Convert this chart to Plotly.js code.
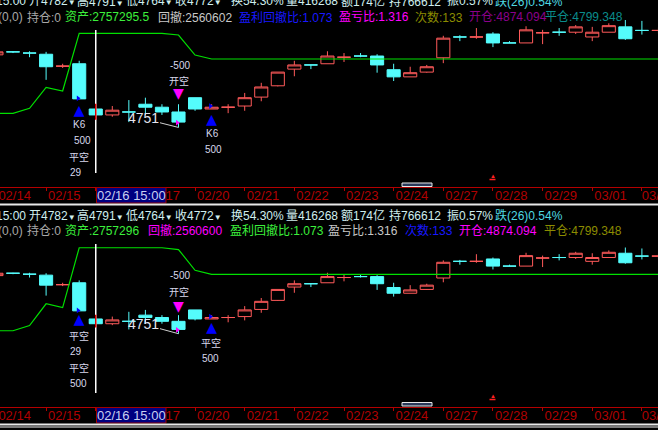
<!DOCTYPE html>
<html><head><meta charset="utf-8">
<script src="https://cdn.plot.ly/plotly-3.0.1.min.js"></script>
<style>html,body{margin:0;padding:0;background:#000;overflow:hidden}</style>
</head><body><div id="chart" style="width:658px;height:430px"></div>
<script>
// ---------------- data ----------------
const barX = [0,1,2,3,4,5,6,7,8,9,10,11,12,13,14,15,16,17,18,19,20,21,22,23,24,25,26,27,28,29,30,31,32,33,34,35,36,37,38,39,40];
const openV  = [4873,4878,4876,4874,4854,4858,4782,4772,4777,4790,4785,4777,4801,4782,4785,4787,4802,4821,4849,4856,4858,4869,4871,4871,4848,4836,4844,4868,4903,4903,4908,4893,4893,4910,4911,4911,4903,4911,4920,4914,4914];
const highV  = [4879,4879,4879,4878,4858,4863,4791,4787,4797,4801,4790,4790,4801,4790,4790,4809,4826,4844,4863,4856,4879,4876,4876,4874,4858,4853,4856,4905,4906,4918,4911,4896,4921,4915,4918,4923,4920,4926,4932,4930,4919];
const lowV   = [4871,4876,4869,4831,4851,4799,4764,4769,4760,4772,4772,4751,4779,4782,4775,4779,4795,4820,4837,4849,4858,4861,4869,4843,4829,4836,4843,4859,4896,4900,4886,4893,4893,4891,4905,4908,4896,4911,4898,4907,4909];
const closeV = [4878,4878,4876,4853,4854,4799,4772,4780,4777,4785,4777,4760,4782,4785,4785,4801,4819,4844,4856,4856,4871,4869,4871,4856,4836,4843,4853,4901,4903,4903,4893,4893,4915,4910,4911,4920,4911,4922,4900,4914,4914];
const barTrend = ['u','d','d','d','u','d','d','u','d','d','d','d','d','u','u','u','u','u','u','d','u','u','d','d','d','u','u','u','d','u','d','d','u','u','d','u','u','u','d','d','u'];
const equity = [1671000,1671000,1771000,2191000,2117000,3271000,3271000,3271000,3271000,3271000,3271000,3237000,2837000,
  2757296,2757296,2757296,2757296,2757296,2757296,2757296,2757296,2757296,2757296,2757296,2757296,2757296,2757296,2757296,
  2757296,2757296,2757296,2757296,2757296,2757296,2757296,2757296,2757296,2757296,2757296,2757296,2757296];
const tickBars = [0,3,6,9,12,15,18,21,24,27,30,33,36,39];
const tickLabels = ['02/14','02/15','02/16','02/17','02/20','02/21','02/22','02/23','02/24','02/27','02/28','02/29','03/01','03/02'];
const cursorBar = 6;
const cursorLabel = '02/16 15:00';
// trade signals
const coverBars = [5, 13];   const coverPrices = [4778, 4763];   // blue up triangles
const shortBars = [11];      const shortPrices = [4807];         // magenta down triangle
const blueFlagBars = [5, 13]; const blueFlagPrices = [4800, 4787];
const pinkFlagBars = [11];    const pinkFlagPrices = [4759];
const quoteItems = ['15:00','开4782▼','高4791▼','低4764▼','收4772▼','换54.30%','量416268','额174亿','持766612','振0.57%','跌(26)0.54%'];
const topStats = ['(0,0)','持仓:0','资产:2757295.5','回撤:2560602','盈利回撤比:1.073','盈亏比:1.316','次数:133','开仓:4874.094','平仓:4799.348'];
const botStats = ['(0,0)','持仓:0','资产:2757296','回撤:2560600','盈利回撤比:1.073','盈亏比:1.316','次数:133','开仓:4874.094','平仓:4799.348'];
const topSignalText = [['K6','500','平空','29'], ['K6','500'], ['开空','-500']];
const botSignalText = [['平空','29','平空','500'], ['平空','500'], ['开空','-500']];

// ---------------- layout helpers ----------------
const W = 658, H = 430;
const px = x => x / W, py = y => 1 - y / H;
const BAR = 16.55, X0 = -3.55;
const xRange = [(0 - X0) / BAR, (W - X0) / BAR];
const pTop = y => 4965.12 - 1.68 * y;
const pBot = y => 2.1 * (2596.1 - y);
const gTop = y => 2757296 + (59 - y) * 20000;
const gBot = y => gTop((y - 213.2) / 1.0375);
const FONT = 'Liberation Sans, Noto Sans CJK SC, DejaVu Sans';
const RED = '#ff5a5a', CYAN = '#54fcfc';

const pick = (arr, idx) => idx.map(i => arr[i]);
const upIdx = barX.filter(i => barTrend[i] === 'u');
const dnIdx = barX.filter(i => barTrend[i] === 'd');

function candles(idx, color, fill, xa, ya) {
  return {type:'candlestick', x:pick(barX,idx), open:pick(openV,idx), high:pick(highV,idx),
    low:pick(lowV,idx), close:pick(closeV,idx), xaxis:xa, yaxis:ya, whiskerwidth:0,
    increasing:{line:{color:color,width:1}, fillcolor:fill},
    decreasing:{line:{color:color,width:1}, fillcolor:fill},
    hoverinfo:'skip', showlegend:false};
}
function panelTraces(xa, ya, ga) {
  return [
    candles(upIdx, RED, '#000000', xa, ya),
    candles(dnIdx, CYAN, CYAN, xa, ya),
    {type:'scatter', mode:'text', x:coverBars, y:coverPrices, text:coverBars.map(()=>'▲'),
     textfont:{family:'DejaVu Sans', size:14, color:'#0000ff'}, xaxis:xa, yaxis:ya, hoverinfo:'skip'},
    {type:'scatter', mode:'text', x:shortBars, y:shortPrices, text:shortBars.map(()=>'▼'),
     textfont:{family:'DejaVu Sans', size:14, color:'#ff00ff'}, xaxis:xa, yaxis:ya, hoverinfo:'skip'},
    {type:'scatter', mode:'markers', x:blueFlagBars.map(v=>v-0.07), y:blueFlagPrices,
     marker:{symbol:'triangle-right', size:5, color:'#0000ff'}, xaxis:xa, yaxis:ya, hoverinfo:'skip'},
    {type:'scatter', mode:'markers', x:pinkFlagBars.map(v=>v-0.07), y:pinkFlagPrices,
     marker:{symbol:'triangle-right', size:5, color:'#ff00ff'}, xaxis:xa, yaxis:ya, hoverinfo:'skip'},
    {type:'scatter', mode:'lines', x:barX, y:equity, line:{color:'#00e000', width:1.2},
     xaxis:xa, yaxis:ga, hoverinfo:'skip'}
  ];
}
const data = [].concat(panelTraces('x','y','y3'), panelTraces('x2','y2','y4'));

const labelPos = tickBars.map(b => Math.min(b + 1.1, xRange[1] - 0.005));
// the label under the cursor is covered by the cursor date box
const shownLabels = tickLabels.map((t, k) => tickBars[k] === cursorBar ? '' : t);
function xaxisDef(anchor) {
  return {domain:[0,1], anchor:anchor, range:xRange, autorange:false, rangeslider:{visible:false},
    showgrid:false, zeroline:false, showline:true, linecolor:'#b40000', linewidth:1,
    tickmode:'array', tickvals:labelPos, ticktext:shownLabels, ticks:'', ticklabeloverflow:'allow',
    ticklabelstandoff:-4,
    tickfont:{family:'Liberation Sans', size:13, color:'#b00000'},
    minor:{tickmode:'array', tickvals:tickBars, ticks:'outside', ticklen:3, tickcolor:'#b40000', tickwidth:1, showgrid:false},
    fixedrange:true};
}
const hid = (domain, range, extra) => Object.assign({domain:domain, range:range, autorange:false, visible:false, fixedrange:true}, extra||{});

const annotations = [];
function txt(text, x, y, color, size, extra) {
  annotations.push(Object.assign({text:text, xref:'paper', yref:'paper', x:px(x), y:py(y),
    xanchor:'left', yanchor:'middle', showarrow:false, font:{family:FONT, size:size||12, color:color}}, extra||{}));
}
const smallArrow = t => t.replace('▼', '<span style="font-size:8px">▼</span>');
// header rows
const quotePos = [-6, 27, 75, 124, 173, 229, 284, 339, 387, 445, 493];
const quoteCol = quoteItems.map((t,i)=> i === quoteItems.length-1 ? '#4fd8e0' : '#cfeeee');
[1, 215.5].forEach(yy => quoteItems.forEach((t,i)=>txt(smallArrow(t), quotePos[i], yy, quoteCol[i])));
const topPos = [-4,25,63,156,237,337,413,467,543];
const topCol = ['#a8a8a8','#a8a8a8','#3cf03c','#c8c8c8','#1818ff','#ff00ff','#8c8c00','#8c008c','#0a8c8c'];
topStats.forEach((t,i)=>txt(t, topPos[i], 17, topCol[i]));
const botPos = [-4,25,63,146,228,326,403,457,542];
const botCol = ['#a8a8a8','#a8a8a8','#3cf03c','#ff00ff','#3cf03c','#c8c8c8','#1818ff','#ff00ff','#8c8c00'];
botStats.forEach((t,i)=>txt(t, botPos[i], 230.5, botCol[i]));

// signal labels anchored to signal points (shift: [right px, up px])
const sigBars = [coverBars[0], coverBars[1], shortBars[0]];
const sigPrices = [coverPrices[0], coverPrices[1], shortPrices[0]];
const topShift = [[[0,-13],[3,-29],[0,-46],[-3,-61]], [[0.5,-13],[2,-29]], [[0,13],[1,29]]];
const botShift = [[[0,-15],[-3,-31],[0,-47],[-1,-63]], [[-0.6,-14.5],[-1.6,-30.5]], [[0,15],[1,32]]];
function sigLabels(texts, shifts, xr, yr) {
  texts.forEach((arr, s) => arr.forEach((t, k) => annotations.push({text:t, xref:xr, yref:yr,
    x:sigBars[s], y:sigPrices[s], xshift:shifts[s][k][0], yshift:shifts[s][k][1],
    showarrow:false, xanchor:'center', yanchor:'middle', font:{family:FONT, size:10, color:'#d8d8ec'}})));
}
sigLabels(topSignalText, topShift, 'x', 'y');
sigLabels(botSignalText, botShift, 'x2', 'y2');
// lowest price label
const lowIdx = lowV.indexOf(Math.min.apply(null, lowV));
[['x','y',-9],['x2','y2',-9.7]].forEach(([xr,yr,ay]) => annotations.push({text:String(lowV[lowIdx]),
  xref:xr, yref:yr, x:barX[lowIdx], y:lowV[lowIdx], showarrow:true, arrowhead:0, arrowwidth:1,
  arrowcolor:'#cfcfcf', standoff:0, ax:-35.5, ay:ay, font:{family:'Liberation Sans', size:14, color:'#e4e4ee'}}));
// cursor date box labels
txt(cursorLabel, 131.5, 195.5, '#c8d0f0', 13, {xanchor:'center'});
txt(cursorLabel, 131.5, 415.5, '#c8d0f0', 13, {xanchor:'center'});
// small red marks
txt('▲', 492.5, 176, '#ff2020', 6, {xanchor:'center'});
txt('▲', 492.5, 396, '#ff2020', 6, {xanchor:'center'});

const shapes = [
  // cursor lines
  {type:'line', xref:'x', yref:'paper', x0:cursorBar, x1:cursorBar, y0:py(173), y1:py(30), line:{color:'#ffffff', width:1.5}},
  {type:'line', xref:'x2', yref:'paper', x0:cursorBar, x1:cursorBar, y0:py(393), y1:py(244), line:{color:'#ffffff', width:1.5}},
  {type:'line', xref:'x', yref:'y', x0:cursorBar, x1:cursorBar, y0:lowV[cursorBar], y1:highV[cursorBar], line:{color:'#e00000', width:1.5}},
  {type:'line', xref:'x2', yref:'y2', x0:cursorBar, x1:cursorBar, y0:lowV[cursorBar], y1:highV[cursorBar], line:{color:'#e00000', width:1.5}},
  // cursor date boxes
  {type:'rect', xref:'paper', yref:'paper', x0:px(96.5), x1:px(166), y0:py(203), y1:py(187.5), fillcolor:'#000080', line:{color:'#a00000', width:1}, layer:'above'},
  {type:'rect', xref:'paper', yref:'paper', x0:px(96.5), x1:px(166), y0:py(423), y1:py(407.5), fillcolor:'#000080', line:{color:'#a00000', width:1}, layer:'above'},
  // bottom separators
  {type:'line', xref:'paper', yref:'paper', x0:0, x1:1, y0:py(204.5), y1:py(204.5), line:{color:'#e8e8e8', width:2}},
  {type:'line', xref:'paper', yref:'paper', x0:0, x1:1, y0:py(424.5), y1:py(424.5), line:{color:'#e8e8e8', width:2}},
  {type:'line', xref:'paper', yref:'paper', x0:0, x1:1, y0:py(427), y1:py(427), line:{color:'#7a7a7a', width:2}},
  // scroll thumbs
  {type:'rect', xref:'paper', yref:'paper', x0:px(402), x1:px(432), y0:py(186.5), y1:py(183), fillcolor:'#2a3a5a', line:{color:'#e8e8e8', width:1}},
  {type:'rect', xref:'paper', yref:'paper', x0:px(402), x1:px(432), y0:py(406), y1:py(402.5), fillcolor:'#2a3a5a', line:{color:'#e8e8e8', width:1}},
  // red mark bars
  {type:'line', xref:'paper', yref:'paper', x0:px(489.5), x1:px(495.5), y0:py(179.5), y1:py(179.5), line:{color:'#ff2020', width:1.5}},
  {type:'line', xref:'paper', yref:'paper', x0:px(489.5), x1:px(495.5), y0:py(399.5), y1:py(399.5), line:{color:'#ff2020', width:1.5}}
];

const layout = {
  width:W, height:H, margin:{l:0,r:0,t:0,b:0}, paper_bgcolor:'#000000', plot_bgcolor:'#000000',
  showlegend:false, hovermode:false, boxgap:0.1, boxgroupgap:0.12,
  xaxis:xaxisDef('y'), xaxis2:xaxisDef('y2'),
  yaxis: hid([py(187), py(20)], [pTop(187), pTop(20)], {anchor:'x'}),
  yaxis2: hid([py(407), py(238)], [pBot(407), pBot(238)], {anchor:'x2'}),
  yaxis3: hid([py(187), py(20)], [gTop(187), gTop(20)], {anchor:'x', overlaying:'y'}),
  yaxis4: hid([py(407), py(238)], [gBot(407), gBot(238)], {anchor:'x2', overlaying:'y2'}),
  annotations:annotations, shapes:shapes
};
Plotly.newPlot('chart', data, layout, {staticPlot:true, displayModeBar:false});
</script></body></html>
